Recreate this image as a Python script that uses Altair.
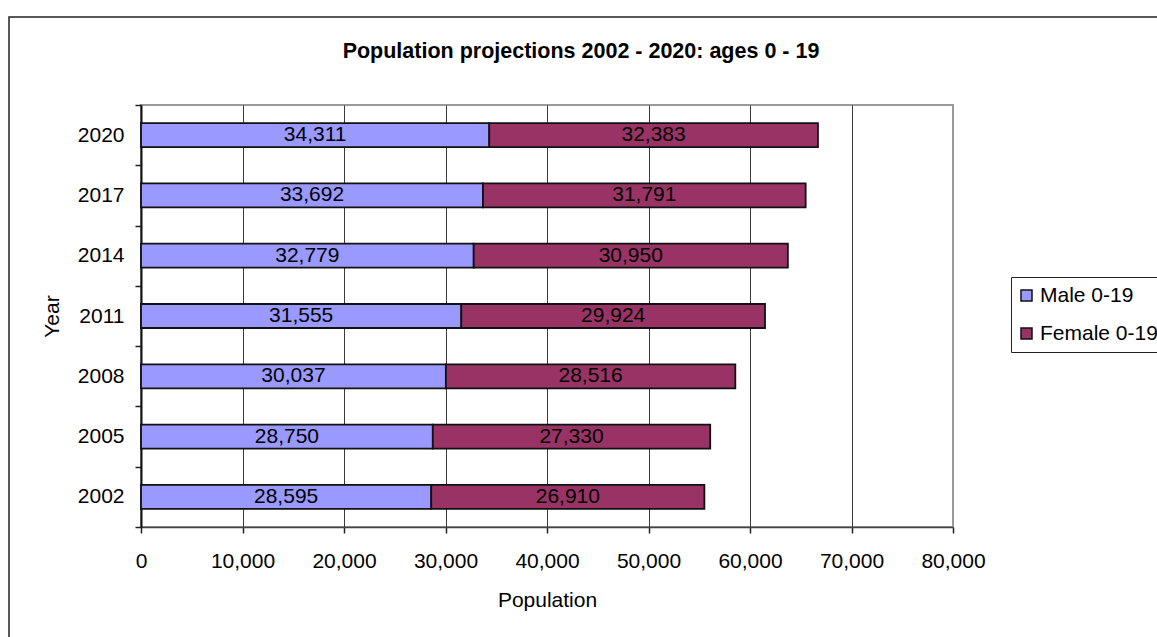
import altair as alt
import pandas as pd

FONT = "Liberation Sans"

# Projected population aged 0-19, by year
years = ["2002", "2005", "2008", "2011", "2014", "2017", "2020"]
male = [28595, 28750, 30037, 31555, 32779, 33692, 34311]
female = [26910, 27330, 28516, 29924, 30950, 31791, 32383]
series = ["Male 0-19", "Female 0-19"]
colors = ["#9999FF", "#993366"]
x_ticks = [0, 10000, 20000, 30000, 40000, 50000, 60000, 70000, 80000]

rows = []
for yr, m, f in zip(years, male, female):
    rows.append({"year": yr, "series": series[0], "rank": 0, "value": m})
    rows.append({"year": yr, "series": series[1], "rank": 1, "value": f})
df = pd.DataFrame(rows)

year_order = years[::-1]
x_scale = alt.Scale(domain=[0, 80000], nice=False, zero=True)
y_scale = alt.Scale(paddingInner=0, paddingOuter=0)

x_axis = alt.Axis(
    values=x_ticks,
    labelExpr="format(datum.value, ',')",
    tickSize=6,
    tickColor="#222222",
    tickWidth=1.5,
    labelPadding=34,
    labelBaseline="alphabetic",
    labelFlush=False,
    labelOverlap=False,
    grid=True,
    gridColor=alt.condition("datum.value == 80000", alt.value("#9a9a9a"), alt.value("#3a3a3a")),
    gridWidth=1,
    domainColor="#444444",
    domainWidth=1.5,
    titleY=79,
    titleBaseline="alphabetic",
)
y_axis = alt.Axis(
    tickBand="extent",
    tickSize=6,
    tickColor="#222222",
    tickWidth=1.5,
    labelPadding=11,
    grid=False,
    domainColor="#111111",
    domainWidth=2,
    titleX=-83,
    titleBaseline="alphabetic",
)

base = alt.Chart(df).transform_stack(
    stack="value",
    groupby=["year"],
    sort=[alt.SortField("rank", order="ascending")],
    as_=["x0", "x1"],
).transform_calculate(mid="(datum.x0 + datum.x1) / 2")

bars = base.mark_bar(size=24, stroke="#111111", strokeWidth=1.8).encode(
    x=alt.X("x0:Q", scale=x_scale, title="Population", axis=x_axis),
    x2="x1:Q",
    y=alt.Y("year:N", sort=year_order, scale=y_scale, title="Year", axis=y_axis),
    color=alt.Color(
        "series:N",
        scale=alt.Scale(domain=series, range=colors),
        legend=alt.Legend(
            title=None,
            orient="none",
            legendX=870,
            legendY=172,
            strokeColor="#222222",
            fillColor="white",
            padding=8,
            rowPadding=16,
            symbolType="square",
            symbolSize=121,
            symbolStrokeColor="#111111",
            symbolStrokeWidth=1.5,
            symbolOpacity=1,
            symbolOffset=-3,
            labelFont=FONT,
            labelFontSize=21,
            labelColor="black",
            labelOffset=3,
        ),
    ),
    order=alt.Order("rank:Q"),
)

labels = base.mark_text(font=FONT, fontSize=21, color="black", baseline="middle").encode(
    x=alt.X("mid:Q", scale=x_scale, title="Population", axis=x_axis),
    y=alt.Y("year:N", sort=year_order, scale=y_scale, title="Year", axis=y_axis),
    text=alt.Text("value:Q", format=","),
)

# Frame around the whole chart
frame = alt.Chart(pd.DataFrame({"k": [0]})).mark_rect(
    fillOpacity=0, stroke="#222222", strokeWidth=1.5, clip=False
).encode(
    x=alt.value(-132), x2=alt.value(1100), y=alt.value(-88), y2=alt.value(600)
)

chart = (
    alt.layer(bars, labels, frame)
    .properties(
        width=812,
        height=422,
        title=alt.TitleParams(
            "Population projections 2002 - 2020: ages 0 - 19",
            font=FONT,
            fontSize=21.5,
            fontWeight="bold",
            color="black",
            anchor="middle",
            dx=34,
            offset=-46,
        ),
        autosize=alt.AutoSizeParams(type="none"),
        padding={"left": 141, "top": 105, "right": 204, "bottom": 110},
        background="white",
    )
    .configure_view(stroke="#9a9a9a", strokeWidth=2)
    .configure_axis(
        labelFont=FONT,
        labelFontSize=21,
        labelColor="black",
        titleFont=FONT,
        titleFontSize=21,
        titleFontWeight="normal",
        titleColor="black",
    )
)

chart.save("out.html", embed_options={"renderer": "svg", "actions": False})
